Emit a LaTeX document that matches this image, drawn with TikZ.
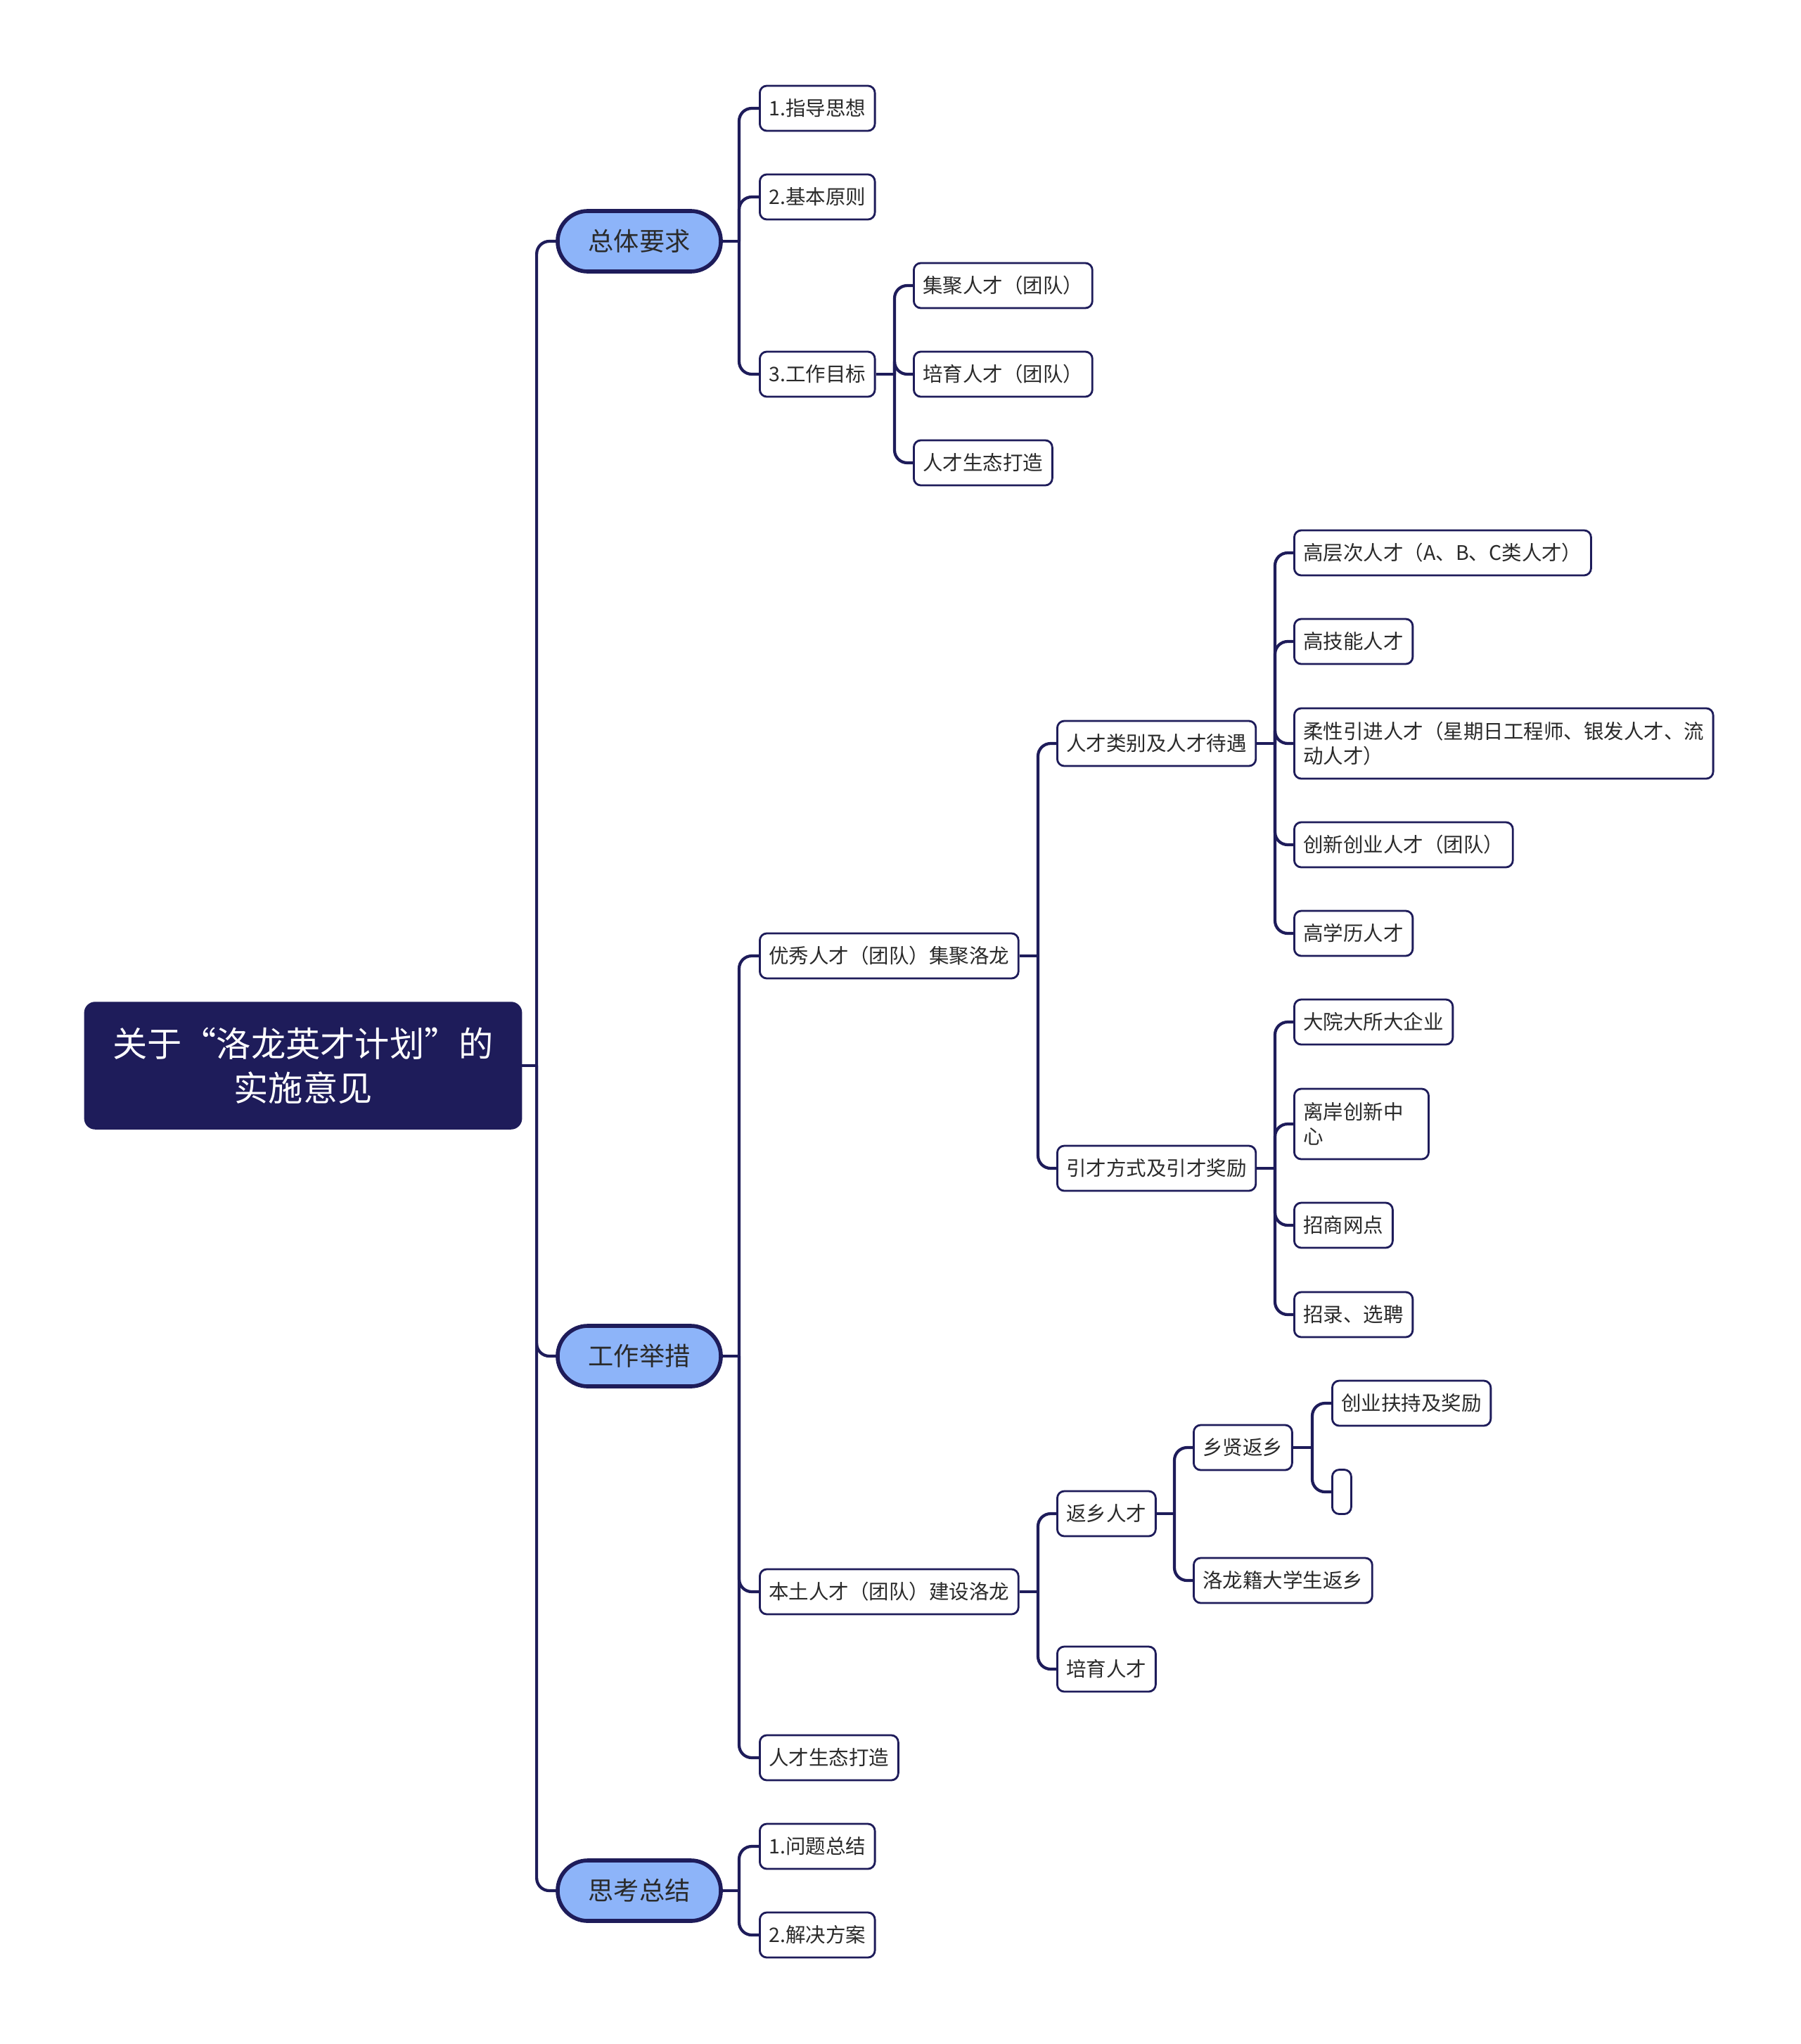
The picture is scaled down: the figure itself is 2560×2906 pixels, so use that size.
\documentclass[tikz,border=0pt]{standalone}
\usepackage{fontspec}
\setmainfont{Noto Sans CJK SC}
\usetikzlibrary{calc}
\definecolor{navy}{HTML}{1E1C5A}
\definecolor{topicblue}{HTML}{8DB4F9}
\definecolor{inktext}{HTML}{2A2A2A}
\tikzset{
  root/.style={draw=navy, fill=navy, text=white, rounded corners=0.15cm,
    minimum width=6.21cm, minimum height=1.8cm, align=center,
    font=\fontsize{14pt}{18pt}\selectfont},
  topic/.style={draw=navy, line width=1.6pt, fill=topicblue, text=inktext,
    rounded corners=0.43cm, minimum width=2.32cm, minimum height=0.86cm,
    font=\fontsize{10.3pt}{12pt}\selectfont},
  item/.style={draw=navy, line width=0.8pt, fill=white, text=inktext,
    rounded corners=0.1cm, anchor=west, minimum height=0.64cm,
    inner xsep=0.13cm, align=left, font=\fontsize{8.1pt}{10pt}\selectfont},
  twoline/.style={minimum height=1.0cm},
  link/.style={draw=navy, line width=1.2pt},
  elbow/.style={link, rounded corners=0.18cm},
}

\begin{document}
\begin{tikzpicture}[x=0.01cm, y=-0.01cm]
    \useasboundingbox (0,0) rectangle (2560,2906);

    % root and main topics
    \node[root] (gy) at (431,1515) {关于“洛龙英才计划”的\\实施意见};
    \node[topic] (zt) at (909,343) {总体要求};
    \node[topic] (gz) at (909,1928) {工作举措};
    \node[topic] (sk) at (909,2688) {思考总结};

    % 总体要求
    \node[item] (zd) at (1079,154) {1.指导思想};
    \node[item] (jb) at (1079,280) {2.基本原则};
    \node[item] (gm) at (1079,532) {3.工作目标};
    \node[item] (jj) at (1298,406) {集聚人才（团队）};
    \node[item] (py) at (1298,532) {培育人才（团队）};
    \node[item] (st) at (1298,658) {人才生态打造};

    % 工作举措
    \node[item] (yx) at (1079,1359) {优秀人才（团队）集聚洛龙};
    \node[item] (bt) at (1079,2263) {本土人才（团队）建设洛龙};
    \node[item] (ts) at (1079,2499) {人才生态打造};
    \node[item] (lb) at (1502,1057) {人才类别及人才待遇};
    \node[item] (yc) at (1502,1661) {引才方式及引才奖励};
    \node[item] (gc) at (1839,786) {高层次人才（A、B、C类人才）};
    \node[item] (gj) at (1839,912) {高技能人才};
    \node[item, twoline] (rx) at (1839,1057) {柔性引进人才（星期日工程师、银发人才、流\\动人才）};
    \node[item] (cx) at (1839,1201) {创新创业人才（团队）};
    \node[item] (gx) at (1839,1327) {高学历人才};
    \node[item] (dy) at (1839,1453) {大院大所大企业};
    \node[item, twoline, text width=1.65cm] (la) at (1839,1598) {离岸创新中\\心};
    \node[item] (zs) at (1839,1742) {招商网点};
    \node[item] (zl) at (1839,1869) {招录、选聘};
    \node[item] (fx) at (1502,2152) {返乡人才};
    \node[item] (pr) at (1502,2373) {培育人才};
    \node[item] (xx) at (1696,2058) {乡贤返乡};
    \node[item] (dx) at (1696,2247) {洛龙籍大学生返乡};
    \node[item] (cy) at (1893,1995) {创业扶持及奖励};
    \node[item, minimum width=0.27cm, minimum height=0.63cm, inner xsep=0pt] (kb) at (1893,2121) {};

    % 思考总结
    \node[item] (wt) at (1079,2625) {1.问题总结};
    \node[item] (fa) at (1079,2751) {2.解决方案};

    % connectors
    \coordinate (gy-j) at ($(gy.east -| zt.west)+(-27,0)$);
    \draw[link] (gy.east) -- (gy-j);
    \foreach \c in {zt,gz,sk} \draw[elbow] (gy-j) |- (\c.west);

    \coordinate (zt-j) at ($(zt.east -| zd.west)+(-28,0)$);
    \draw[link] (zt.east) -- (zt-j);
    \foreach \c in {zd,jb,gm} \draw[elbow] (zt-j) |- (\c.west);

    \coordinate (gm-j) at ($(gm.east -| jj.west)+(-26,0)$);
    \draw[link] (gm.east) -- (gm-j);
    \foreach \c in {jj,py,st} \draw[elbow] (gm-j) |- (\c.west);

    \coordinate (gz-j) at ($(gz.east -| yx.west)+(-28,0)$);
    \draw[link] (gz.east) -- (gz-j);
    \foreach \c in {yx,bt,ts} \draw[elbow] (gz-j) |- (\c.west);

    \coordinate (yx-j) at ($(yx.east -| lb.west)+(-26,0)$);
    \draw[link] (yx.east) -- (yx-j);
    \foreach \c in {lb,yc} \draw[elbow] (yx-j) |- (\c.west);

    \coordinate (lb-j) at ($(lb.east -| gc.west)+(-26,0)$);
    \draw[link] (lb.east) -- (lb-j);
    \foreach \c in {gc,gj,rx,cx,gx} \draw[elbow] (lb-j) |- (\c.west);

    \coordinate (yc-j) at ($(yc.east -| dy.west)+(-26,0)$);
    \draw[link] (yc.east) -- (yc-j);
    \foreach \c in {dy,la,zs,zl} \draw[elbow] (yc-j) |- (\c.west);

    \coordinate (bt-j) at ($(bt.east -| fx.west)+(-26,0)$);
    \draw[link] (bt.east) -- (bt-j);
    \foreach \c in {fx,pr} \draw[elbow] (bt-j) |- (\c.west);

    \coordinate (fx-j) at ($(fx.east -| xx.west)+(-26,0)$);
    \draw[link] (fx.east) -- (fx-j);
    \foreach \c in {xx,dx} \draw[elbow] (fx-j) |- (\c.west);

    \coordinate (xx-j) at ($(xx.east -| cy.west)+(-27,0)$);
    \draw[link] (xx.east) -- (xx-j);
    \foreach \c in {cy,kb} \draw[elbow] (xx-j) |- (\c.west);

    \coordinate (sk-j) at ($(sk.east -| wt.west)+(-28,0)$);
    \draw[link] (sk.east) -- (sk-j);
    \foreach \c in {wt,fa} \draw[elbow] (sk-j) |- (\c.west);
\end{tikzpicture}
\end{document}
